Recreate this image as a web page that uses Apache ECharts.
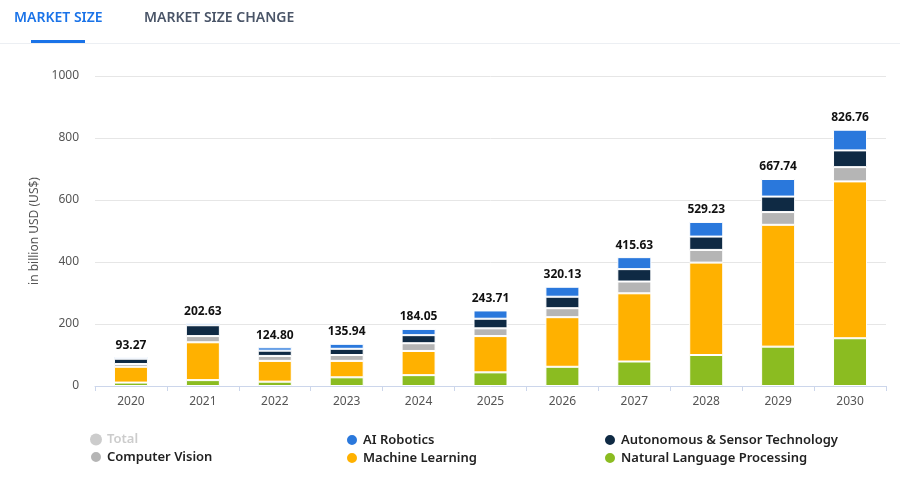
<!DOCTYPE html>
<html><head><meta charset="utf-8">
<script src="https://cdn.jsdelivr.net/npm/echarts@6/dist/echarts.min.js"></script>
<style>html,body{margin:0;padding:0;background:#fff}#c{width:900px;height:482px}</style>
</head><body><div id="c"></div>
<script>
const years=['2020','2021','2022','2023','2024','2025','2026','2027','2028','2029','2030'];
const totals=[93.27,202.63,124.80,135.94,184.05,243.71,320.13,415.63,529.23,667.74,826.76];
const nlp=[11,19,14,28,35,44,62,79,100,127,154];
const ml=[51,122,67,53,78,117,160,220,298,393,506];
const cv=[9,20,16,19,25,25,29,38,41,41,46];
const auto=[17,35,17,20,26,31,37,40,43,50,54];
const robo=totals.map((t,i)=>+(t-nlp[i]-ml[i]-cv[i]-auto[i]).toFixed(2));
const chart=echarts.init(document.getElementById('c'));
const font='"Noto Sans", "Open Sans", sans-serif';
function s(name,data,color,extra){return Object.assign({name,type:'bar',stack:'a',data,barWidth:34,
 itemStyle:{color,borderColor:'#fff',borderWidth:1}},extra||{});}
chart.setOption({
 textStyle:{fontFamily:font},
 animation:false,
 grid:{left:95,right:14,top:76,bottom:96},
 graphic:[
  {type:'text',left:14,top:11,style:{text:'MARKET SIZE',fill:'#1a73e8',font:'600 14px '+font}},
  {type:'rect',shape:{x:31,y:40,width:54,height:3},style:{fill:'#1a73e8'}},
  {type:'text',left:144,top:11,style:{text:'MARKET SIZE CHANGE',fill:'#4a5568',font:'600 14px '+font}},
  {type:'rect',shape:{x:0,y:43,width:900,height:1},style:{fill:'#eceff3'}}
 ],
 legend:[
  {left:84,top:428,orient:'vertical',itemGap:4,icon:'circle',itemWidth:12,itemHeight:12,
   data:['Total','Computer Vision'],textStyle:{fontSize:13,fontWeight:600,color:'#222'},inactiveColor:'#ccc',
   selected:{Total:false}},
  {left:340,top:428,orient:'vertical',itemGap:4,icon:'circle',itemWidth:12,itemHeight:12,
   data:['AI Robotics','Machine Learning'],textStyle:{fontSize:13,fontWeight:600,color:'#222'}},
  {left:598,top:428,orient:'vertical',itemGap:4,icon:'circle',itemWidth:12,itemHeight:12,
   data:['Autonomous & Sensor Technology','Natural Language Processing'],textStyle:{fontSize:13,fontWeight:600,color:'#222'}}
 ],
 xAxis:{type:'category',data:years,axisLine:{lineStyle:{color:'#ccd6eb'}},axisTick:{show:true,lineStyle:{color:'#ccd6eb'}},
  axisLabel:{color:'#555',fontSize:12,margin:10}},
 yAxis:{type:'value',min:0,max:1000,interval:200,name:'in billion USD (US$)',nameLocation:'middle',nameGap:52,
  nameTextStyle:{color:'#555',fontSize:12},axisLabel:{color:'#555',fontSize:12,margin:16,formatter:v=>String(v)},
  splitLine:{lineStyle:{color:'#e6e6e6'}}},
 series:[
  s('Natural Language Processing',nlp,'#8bbc21'),
  s('Machine Learning',ml,'#ffb100'),
  s('Computer Vision',cv,'#b5b5b5'),
  s('Autonomous & Sensor Technology',auto,'#0f2a44'),
  s('AI Robotics',robo,'#2a78dc',{label:{show:true,position:'top',distance:6,color:'#111',fontWeight:700,fontSize:12,
   formatter:p=>totals[p.dataIndex].toFixed(2)}}),
  {name:'Total',type:'bar',stack:'b',data:totals,itemStyle:{color:'#ccc'}}
 ]
});
</script></body></html>
